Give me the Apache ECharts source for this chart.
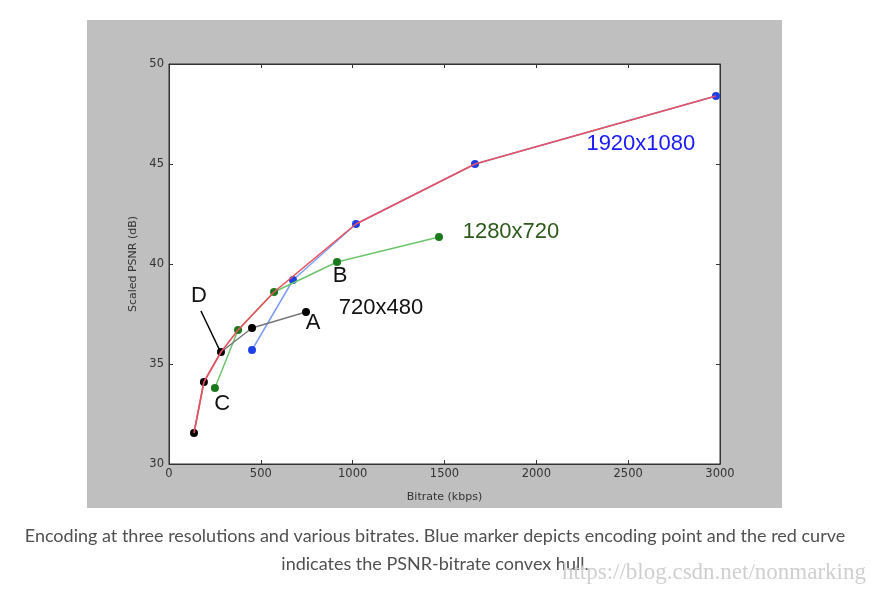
<!DOCTYPE html>
<html><head><meta charset="utf-8">
<script src="https://cdn.jsdelivr.net/npm/echarts@6/dist/echarts.min.js"></script>
<style>html,body{margin:0;padding:0;background:#fff}#c{width:878px;height:594px}</style>
</head><body><div id="c"></div>
<script>
// Data (bitrate kbps, scaled PSNR dB)
var res720 = [[136,31.55],[190,34.1],[283,35.6],[452,36.8],[746,37.6]];
var res1280 = [[250,33.8],[376,36.7],[572,38.6],[915,40.1],[1470,41.35]];
var res1920 = [[452,35.7],[675,39.2],[1018,42.0],[1666,45.0],[2978,48.4]];
var hull = [[136,31.55],[190,34.1],[283,35.6],[376,36.7],[572,38.6],[1018,42.0],[1666,45.0],[2978,48.4]];
var dPointer = [[174,37.65],[278,35.65]];
var notes = [
  {text:'1920x1080', x:2569, y:46.0, color:'#1a1aff'},
  {text:'1280x720', x:1862, y:41.6, color:'#2d5a1b'},
  {text:'720x480', x:1154, y:37.8, color:'#111111'},
  {text:'A', x:784, y:37.05, color:'#111111'},
  {text:'B', x:931, y:39.4, color:'#111111'},
  {text:'C', x:289, y:33.0, color:'#111111'},
  {text:'D', x:163, y:38.4, color:'#111111'}
];
var xTicks = {min:0, max:3000, interval:500};
var yTicks = {min:30, max:50, interval:5};
var caption1 = 'Encoding at three resolutions and various bitrates. Blue marker depicts encoding point and the red curve';
var caption2 = 'indicates the PSNR-bitrate convex hull.';
var watermark = 'https://blog.csdn.net/nonmarking';

var chart = echarts.init(document.getElementById('c'), null, {renderer:'canvas'});
var F = 'DejaVu Sans';
function lineSeries(data, lineColor, dotColor, z){
  return {type:'line', data:data, z:z, symbol:'circle', symbolSize:8, showSymbol:true,
    lineStyle:{color:lineColor, width:1.5}, itemStyle:{color:dotColor, borderWidth:0},
    animation:false, silent:true};
}
var axisCommon = {
  axisLine:{show:true, onZero:false, lineStyle:{color:'#333', width:1}},
  axisTick:{show:true, inside:true, length:4, lineStyle:{color:'#333'}},
  splitLine:{show:false}
};
chart.setOption({
  animation:false,
  backgroundColor:'#fff',
  graphic:[
    {type:'rect', z:-10, shape:{x:87, y:20, width:695, height:488}, style:{fill:'#bfbfbf'}},
    {type:'text', x:435, y:536, style:{text:caption1, font:'18px Lato', fill:'#505050', align:'center', verticalAlign:'middle'}},
    {type:'text', x:435, y:564, style:{text:caption2, font:'18px Lato', fill:'#505050', align:'center', verticalAlign:'middle'}},
    {type:'text', x:866, y:573, style:{text:watermark, font:'23px "Liberation Serif"', fill:'#cfcfcf', align:'right', verticalAlign:'middle'}}
  ],
  grid:{left:169, right:158, top:64, bottom:130, show:true, backgroundColor:'#fff', borderColor:'#333', borderWidth:1},
  xAxis:[
    Object.assign({type:'value', position:'bottom', min:xTicks.min, max:xTicks.max, interval:xTicks.interval,
      name:'Bitrate (kbps)', nameLocation:'middle', nameGap:28,
      nameTextStyle:{fontFamily:F, fontSize:11, color:'#333'},
      axisLabel:{fontFamily:F, fontSize:11.5, color:'#333', margin:4, formatter:function(v){return String(v);}}}, axisCommon),
    Object.assign({type:'value', position:'top', min:xTicks.min, max:xTicks.max, interval:xTicks.interval,
      axisLabel:{show:false}}, axisCommon)
  ],
  yAxis:[
    Object.assign({type:'value', position:'left', min:yTicks.min, max:yTicks.max, interval:yTicks.interval,
      name:'Scaled PSNR (dB)', nameLocation:'middle', nameGap:29,
      nameTextStyle:{fontFamily:F, fontSize:11, color:'#333'},
      axisLabel:{fontFamily:F, fontSize:11.5, color:'#333', margin:5}}, axisCommon),
    Object.assign({type:'value', position:'right', min:yTicks.min, max:yTicks.max, interval:yTicks.interval,
      axisLabel:{show:false}}, axisCommon)
  ],
  series:[
    lineSeries(res1920, '#7d9df7', '#1f3fe6', 2),
    lineSeries(res1280, '#6cc46c', '#1b7a1b', 3),
    lineSeries(res720, '#777777', '#000000', 4),
    {type:'line', data:hull, z:5, symbol:'none', lineStyle:{color:'#e8505e', width:1.6}, silent:true},
    {type:'line', data:dPointer, z:6, symbol:'none', lineStyle:{color:'#000', width:1.5}, silent:true},
    {type:'scatter', z:7, symbolSize:0, silent:true, itemStyle:{opacity:1},
      data:notes.map(function(n){return {value:[n.x,n.y], label:{show:true, position:'inside', formatter:n.text,
        color:n.color, opacity:1, fontFamily:'Liberation Sans', fontSize:22}};})}
  ]
});
</script></body></html>
